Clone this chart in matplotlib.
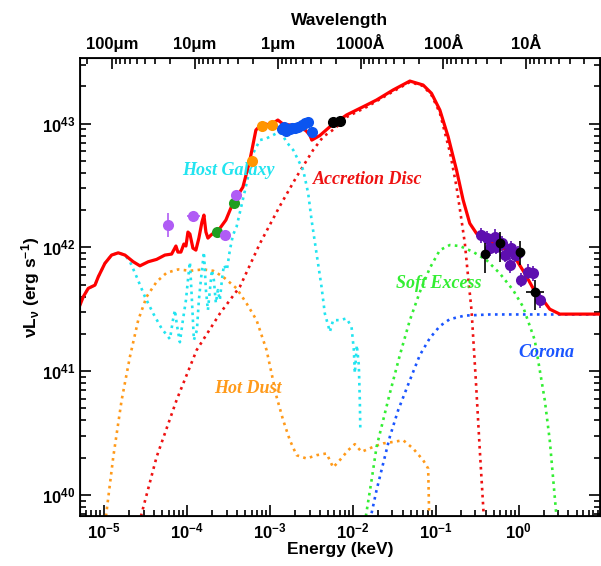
import numpy as np
import matplotlib
matplotlib.use("Agg")
import matplotlib.pyplot as plt
from matplotlib.ticker import FixedLocator, NullFormatter, LogFormatterSciNotation

plt.rcParams['font.family'] = ['Liberation Sans', 'DejaVu Sans']
plt.rcParams['font.weight'] = 'bold'
plt.rcParams['mathtext.fontset'] = 'custom'
plt.rcParams['mathtext.rm'] = 'Liberation Sans:bold'
plt.rcParams['mathtext.it'] = 'Liberation Sans:bold'
plt.rcParams['mathtext.bf'] = 'Liberation Sans:bold'

# ---- model components, log10(E/keV) and log10(nuLnu / erg s^-1)
total_logE = [-5.293, -5.253, -5.193, -5.112, -5.072, -4.992, -4.911, -4.831, -4.750,
              -4.650, -4.569, -4.469, -4.368, -4.268, -4.187, -4.135, -4.111, -4.075,
              -4.039, -4.014, -3.990, -3.966, -3.930, -3.894, -3.858, -3.821, -3.797,
              -3.773, -3.749, -3.713, -3.665, -3.605, -3.532, -3.447, -3.327, -3.242,
              -3.170, -3.110, -3.049, -3.001, -2.941, -2.905, -2.844, -2.760, -2.688,
              -2.639, -2.567, -2.519, -2.495, -2.398, -2.277, -2.076, -1.835, -1.714,
              -1.514, -1.312, -1.152, -1.051, -0.950, -0.850, -0.749, -0.669, -0.589,
              -0.508, -0.387, -0.227, -0.146, -0.025, 0.075, 0.175, 0.296, 0.376,
              0.497, 0.979]
total_logL = [41.534, 41.601, 41.669, 41.695, 41.762, 41.871, 41.938, 41.956, 41.938,
              41.884, 41.851, 41.884, 41.903, 41.938, 41.946, 42.011, 41.962, 41.962,
              42.027, 42.011, 42.124, 42.108, 41.994, 41.978, 42.075, 42.205, 42.261,
              42.124, 42.075, 42.099, 42.124, 42.154, 42.221, 42.358, 42.487, 42.706,
              42.948, 42.989, 42.997, 42.981, 43.013, 43.029, 42.997, 42.989, 42.981,
              42.968, 42.944, 42.908, 42.867, 42.904, 42.975, 43.070, 43.150, 43.191,
              43.272, 43.344, 43.312, 43.245, 43.110, 42.894, 42.625, 42.382, 42.194,
              42.113, 42.059, 42.005, 41.978, 41.897, 41.790, 41.669, 41.574, 41.501,
              41.461, 41.461]

disc_logE = [-4.557, -4.368, -4.127, -3.885, -3.604, -3.363, -3.121, -2.881, -2.679,
             -2.479, -2.358, -2.217, -2.076, -1.835, -1.514, -1.312, -1.152, -1.051,
             -0.950, -0.826, -0.749, -0.689, -0.649, -0.609, -0.568, -0.516, -0.468,
             -0.420]
disc_logL = [39.828, 40.307, 40.766, 41.170, 41.466, 41.682, 42.032, 42.334, 42.571,
             42.787, 42.894, 42.960, 43.053, 43.134, 43.260, 43.336, 43.304, 43.231,
             43.086, 42.762, 42.490, 42.221, 42.035, 41.762, 41.493, 40.927, 40.361,
             39.828]

host_logE = [-5.293, -5.253, -5.193, -5.112, -5.072, -4.992, -4.911, -4.831, -4.750,
             -4.689, -4.609, -4.509, -4.409, -4.308, -4.207, -4.171, -4.147, -4.123,
             -4.087, -4.051, -4.014, -3.990, -3.966, -3.942, -3.918, -3.882, -3.858,
             -3.834, -3.810, -3.797, -3.773, -3.749, -3.725, -3.701, -3.677, -3.653,
             -3.629, -3.605, -3.580, -3.556, -3.520, -3.484, -3.447, -3.403, -3.282,
             -3.203, -3.122, -3.041, -2.920, -2.860, -2.800, -2.720, -2.599, -2.539,
             -2.498, -2.438, -2.378, -2.338, -2.277, -2.238, -2.157, -2.076, -2.016,
             -1.988, -1.976, -1.952, -1.928, -1.916, -1.910]
host_logL = [41.534, 41.601, 41.669, 41.695, 41.762, 41.871, 41.938, 41.956, 41.938,
             41.884, 41.762, 41.601, 41.466, 41.345, 41.259, 41.412, 41.493, 41.372,
             41.234, 41.412, 41.574, 41.736, 41.881, 41.574, 41.251, 41.331, 41.574,
             41.736, 41.881, 41.962, 41.655, 41.493, 41.655, 41.817, 41.736, 41.550,
             41.655, 41.574, 41.736, 41.857, 41.817, 41.978, 42.099, 42.167, 42.517,
             42.760, 42.867, 42.881, 42.922, 42.922, 42.851, 42.787, 42.625, 42.437,
             42.221, 41.951, 41.682, 41.466, 41.318, 41.412, 41.412, 41.426, 41.358,
             41.170, 40.984, 41.210, 41.049, 40.766, 40.539]

dust_logE = [-4.979, -4.891, -4.790, -4.690, -4.590, -4.489, -4.368, -4.247, -4.107,
             -3.966, -3.806, -3.685, -3.565, -3.403, -3.282, -3.162, -3.041, -2.920,
             -2.841, -2.760, -2.679, -2.558, -2.438, -2.317, -2.238, -2.157, -2.057,
             -1.976, -1.895, -1.755, -1.634, -1.514, -1.393, -1.273, -1.152, -1.091,
             -1.079]
dust_logL = [39.828, 40.307, 40.766, 41.116, 41.412, 41.601, 41.722, 41.795, 41.822,
             41.811, 41.822, 41.811, 41.762, 41.669, 41.547, 41.412, 41.170, 40.792,
             40.604, 40.442, 40.321, 40.294, 40.321, 40.335, 40.222, 40.281, 40.361,
             40.410, 40.348, 40.388, 40.416, 40.428, 40.442, 40.375, 40.281, 40.213,
             39.828]

soft_logE = [-1.843, -1.774, -1.714, -1.634, -1.554, -1.433, -1.312, -1.192, -1.071,
             -0.950, -0.830, -0.709, -0.549, -0.387, -0.227, -0.066, 0.054, 0.195,
             0.316, 0.376, 0.457]
soft_logL = [39.828, 40.119, 40.388, 40.604, 40.820, 41.129, 41.412, 41.639, 41.833,
             41.978, 42.019, 42.011, 41.964, 41.897, 41.790, 41.655, 41.520, 41.251,
             40.766, 40.442, 39.828]

corona_logE = [-1.774, -1.714, -1.634, -1.554, -1.453, -1.312, -1.192, -1.071, -0.950,
               -0.830, -0.649, -0.347, 0.979]
corona_logL = [39.852, 40.038, 40.254, 40.469, 40.685, 40.927, 41.129, 41.267, 41.364,
               41.420, 41.449, 41.458, 41.458]

# ---- photometry
ir_logE = [-4.228, -3.926, -3.544, -3.411]
ir_logL = [42.180, 42.253, 42.099, 42.423]
ir_yerr = [0.10, 0.0, 0.0, 0.0]
ir_xerr = [0.0, 0.08, 0.0, 0.0]

grn_logE = [-3.637, -3.435]
grn_logL = [42.126, 42.361]

org_logE = [-3.101, -2.981, -3.215]
org_logL = [42.983, 42.989, 42.698]

blu_logE = [-2.860, -2.830, -2.808, -2.760, -2.736, -2.700, -2.660, -2.619, -2.579,
            -2.539, -2.498]
blu_logL = [42.954, 42.973, 42.943, 42.954, 42.964, 42.962, 42.975, 42.989, 43.002,
            43.015, 42.935]

opt_logE = [-2.238, -2.157]
opt_logL = [43.011, 43.021]

xr_logE = [-0.448, -0.387, -0.287, -0.267, -0.206, -0.347, -0.166, -0.086, -0.046,
           -0.006, -0.106, 0.115, 0.175, 0.035, 0.256]
xr_logL = [42.099, 42.073, 42.086, 42.005, 42.032, 41.992, 41.938, 41.992, 41.938,
           41.951, 41.857, 41.803, 41.790, 41.736, 41.574]

xb_logE = [-0.411, -0.227, 0.015, 0.195]
xb_logL = [41.943, 42.032, 41.964, 41.641]
xb_up = [0.092, 0.092, 0.087, 0.094]
xb_lo = [0.151, 0.151, 0.107, 0.148]
xb_xerr = [0.04, 0.0, 0.0, 0.11]

# axis ticks
energy_major = [1e-5, 1e-4, 1e-3, 1e-2, 1e-1, 1e0]
lum_major = [1e40, 1e41, 1e42, 1e43]
wave_major = [1e6, 1e5, 1e4, 1e3, 1e2, 1e1]  # Angstrom
wave_labels = ['100μm', '10μm', '1μm', '1000Å', '100Å', '10Å']
HC = 12.398  # keV * Angstrom
XLIM = (5.09e-6, 9.55)
YLIM = (6.73e39, 3.39e43)


def p(a):
    return 10 ** np.asarray(a, dtype=float)


def minors(lo, hi, scale=1.0):
    out = [scale * k * 10.0 ** n for n in range(-8, 48) for k in range(2, 10)]
    return [m for m in out if lo < m < hi]


fig = plt.figure(figsize=(6.01, 5.66), dpi=100)
ax = fig.add_axes([0.133, 0.088, 0.865, 0.8095])

dot = dict(ls=':', lw=1.9)
ax.plot(p(dust_logE), p(dust_logL), color='#ff9a1a', **dot)
ax.plot(p(disc_logE), p(disc_logL), color='#ee1111', **dot)
ax.plot(p(soft_logE), p(soft_logL), color='#33ee33', **dot)
ax.plot(p(corona_logE), p(corona_logL), color='#1a55ff', **dot)
ax.plot(p(host_logE), p(host_logL), color='#22e4f0', **dot)
ax.plot(p(total_logE), p(total_logL), color='#ff0000', lw=2.3, zorder=3)

# photometric points
ir_E, ir_L = p(ir_logE), p(ir_logL)
ax.errorbar(ir_E, ir_L,
            yerr=[ir_L - ir_L / p(ir_yerr), ir_L * p(ir_yerr) - ir_L],
            xerr=[ir_E - ir_E / p(ir_xerr), ir_E * p(ir_xerr) - ir_E],
            fmt='o', ms=8, color='#b05cf5', mec='none', elinewidth=1.2, capsize=0, zorder=4)
ax.plot(p(grn_logE), p(grn_logL), 'o', ms=8, color='#1f9e1f', mec='none', zorder=4)
ax.plot(p(org_logE), p(org_logL), 'o', ms=8, color='#ff9500', mec='none', zorder=4)
ax.plot(p(blu_logE), p(blu_logL), 'o', ms=8, color='#0b55f0', mec='none', zorder=4)
ax.plot(p(opt_logE), p(opt_logL), 'o', ms=7, color='black', zorder=4)

xr_E, xr_L = p(xr_logE), p(xr_logL)
ax.errorbar(xr_E, xr_L, yerr=[xr_L - xr_L / 10 ** 0.06, xr_L * 10 ** 0.06 - xr_L],
            fmt='o', ms=8, color='#5e0fb0', mec='none', elinewidth=1.2, capsize=0, zorder=4)
xb_E, xb_L = p(xb_logE), p(xb_logL)
ax.errorbar(xb_E, xb_L,
            yerr=[xb_L - xb_L / p(xb_lo), xb_L * p(xb_up) - xb_L],
            xerr=[xb_E - xb_E / p(xb_xerr), xb_E * p(xb_xerr) - xb_E],
            fmt='o', ms=6, color='black', elinewidth=1.2, capsize=0, zorder=5)

ax.set_xscale('log')
ax.set_yscale('log')
ax.set_xlim(*XLIM)
ax.set_ylim(*YLIM)
ax.xaxis.set_major_locator(FixedLocator(energy_major))
ax.xaxis.set_minor_locator(FixedLocator(minors(*XLIM)))
ax.yaxis.set_major_locator(FixedLocator(lum_major))
ax.yaxis.set_minor_locator(FixedLocator(minors(*YLIM)))
ax.xaxis.set_major_formatter(LogFormatterSciNotation())
ax.yaxis.set_major_formatter(LogFormatterSciNotation())
ax.xaxis.set_minor_formatter(NullFormatter())
ax.yaxis.set_minor_formatter(NullFormatter())

ax.tick_params(which='both', direction='in', top=False, right=True, width=1.2,
               labelsize=12)
ax.tick_params(which='major', length=8)
ax.tick_params(which='minor', length=4.5)
for s in ax.spines.values():
    s.set_linewidth(1.3)

ax.set_xlabel('Energy (keV)', fontsize=12.5, fontweight='bold', labelpad=1)
ax.set_ylabel(r'$\nu$L$_\nu$ (erg s$^{-1}$)', fontsize=12.5, fontweight='bold', labelpad=0)

# top wavelength axis
ax2 = ax.twiny()
ax2.set_xscale('log')
ax2.set_xlim(*XLIM)
ax2.xaxis.set_major_locator(FixedLocator([HC / w for w in wave_major]))
ax2.set_xticklabels(wave_labels)
wminor = [HC / (k * 10 ** n) for n in range(0, 7) for k in range(2, 10)]
wminor = [m for m in wminor if XLIM[0] < m < XLIM[1]]
ax2.xaxis.set_minor_locator(FixedLocator(wminor))
ax2.xaxis.set_minor_formatter(NullFormatter())
ax2.tick_params(which='both', direction='in', width=1.2, labelsize=12, pad=4)
ax2.tick_params(which='major', length=8)
ax2.tick_params(which='minor', length=4.5)
ax2.set_xlabel('Wavelength', fontsize=12.5, fontweight='bold', labelpad=9)

lab = dict(transform=ax.transAxes, ha='center', va='center', fontsize=13,
           fontstyle='italic', fontweight='bold', family='Liberation Serif')
ax.text(0.285, 0.755, 'Host Galaxy', color='#22e4f0', **lab)
ax.text(0.554, 0.734, 'Accretion Disc', color='#ee1111', **lab)
ax.text(0.690, 0.507, 'Soft Excess', color='#33ee33', **lab)
ax.text(0.898, 0.358, 'Corona', color='#1a55ff', **lab)
ax.text(0.323, 0.279, 'Hot Dust', color='#ff9a1a', **lab)

fig.savefig('out.png', dpi=100)
